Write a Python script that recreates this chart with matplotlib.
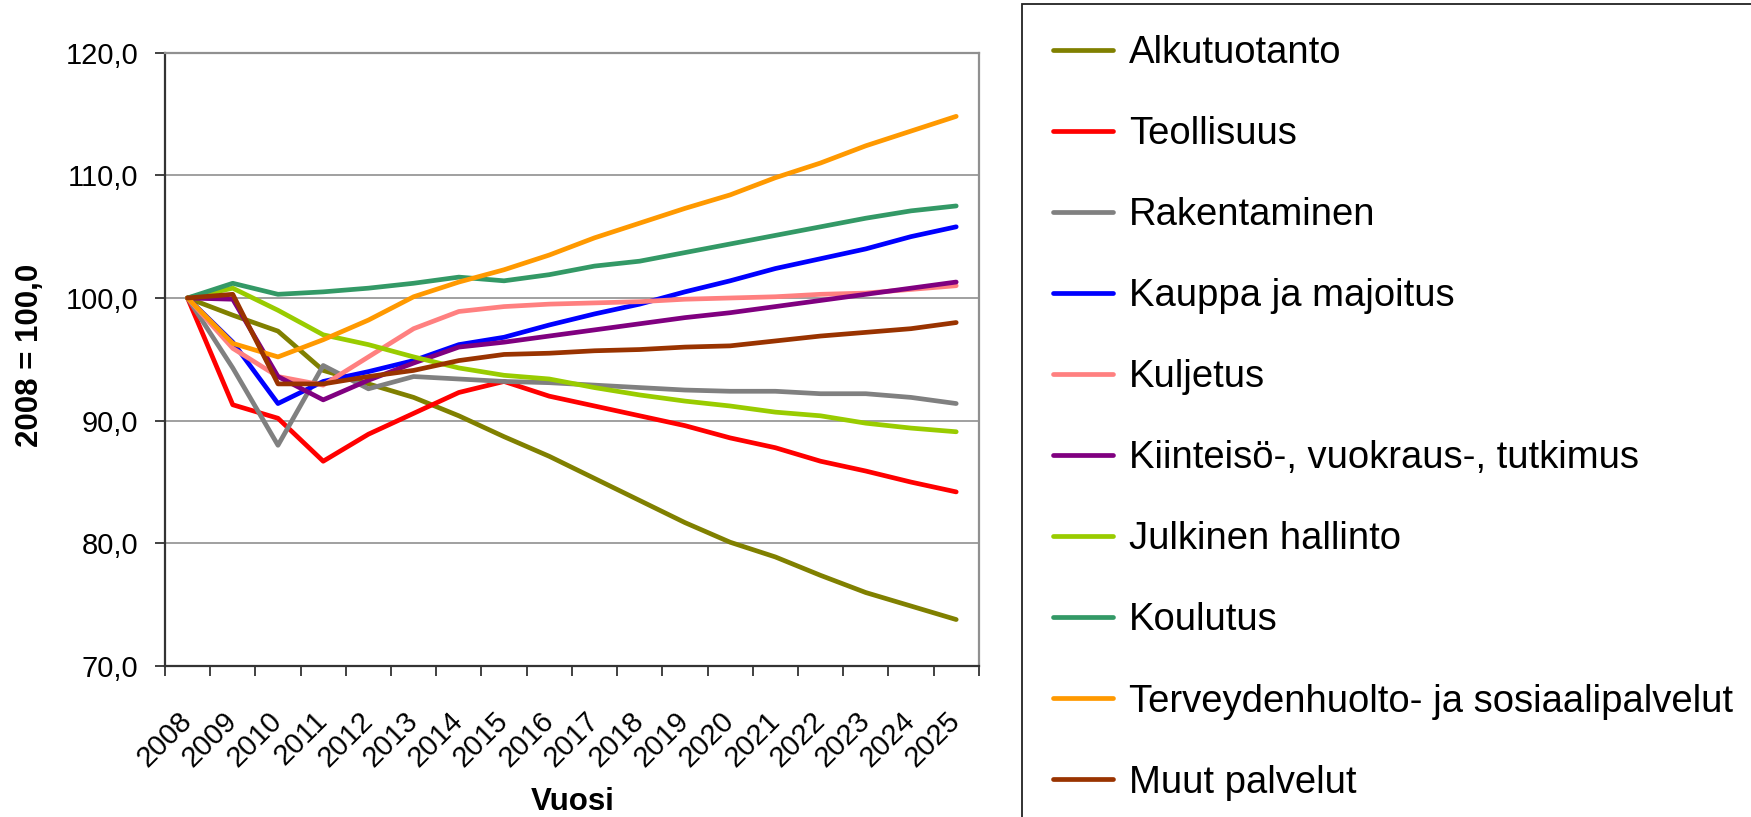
import matplotlib
matplotlib.use("Agg")
import matplotlib.pyplot as plt
from matplotlib.patches import Rectangle
from matplotlib.transforms import ScaledTranslation

plt.rcParams['font.family'] = ['Liberation Sans', 'DejaVu Sans']

# Data (index, 2008 = 100)

years = ['2008', '2009', '2010', '2011', '2012', '2013', '2014', '2015', '2016',
         '2017', '2018', '2019', '2020', '2021', '2022', '2023', '2024', '2025']

alkutuotanto = [100.0, 98.6, 97.3, 94.1, 93.0, 91.9, 90.4, 88.7, 87.1,
                85.3, 83.5, 81.7, 80.1, 78.9, 77.4, 76.0, 74.9, 73.8]
teollisuus = [100.0, 91.3, 90.2, 86.7, 88.9, 90.6, 92.3, 93.2, 92.0,
              91.2, 90.4, 89.6, 88.6, 87.8, 86.7, 85.9, 85.0, 84.2]
rakentaminen = [100.0, 94.3, 88.0, 94.5, 92.6, 93.6, 93.4, 93.2, 93.1,
                92.9, 92.7, 92.5, 92.4, 92.4, 92.2, 92.2, 91.9, 91.4]
kauppa = [100.0, 96.4, 91.4, 93.2, 94.0, 94.9, 96.2, 96.8, 97.8,
          98.7, 99.5, 100.5, 101.4, 102.4, 103.2, 104.0, 105.0, 105.8]
kuljetus = [100.0, 95.9, 93.6, 92.9, 95.2, 97.5, 98.9, 99.3, 99.5,
            99.6, 99.7, 99.9, 100.0, 100.1, 100.3, 100.4, 100.7, 101.0]
kiinteisto = [100.0, 99.9, 93.6, 91.7, 93.3, 94.7, 96.0, 96.4, 96.9,
              97.4, 97.9, 98.4, 98.8, 99.3, 99.8, 100.3, 100.8, 101.3]
julkinen = [100.0, 100.8, 99.0, 97.0, 96.2, 95.2, 94.3, 93.7, 93.4,
            92.7, 92.1, 91.6, 91.2, 90.7, 90.4, 89.8, 89.4, 89.1]
koulutus = [100.0, 101.2, 100.3, 100.5, 100.8, 101.2, 101.7, 101.4, 101.9,
            102.6, 103.0, 103.7, 104.4, 105.1, 105.8, 106.5, 107.1, 107.5]
terveys = [100.0, 96.3, 95.2, 96.6, 98.2, 100.1, 101.3, 102.3, 103.5,
           104.9, 106.1, 107.3, 108.4, 109.8, 111.0, 112.4, 113.6, 114.8]
muut = [100.0, 100.3, 93.0, 93.0, 93.6, 94.1, 94.9, 95.4, 95.5,
        95.7, 95.8, 96.0, 96.1, 96.5, 96.9, 97.2, 97.5, 98.0]

labels = ['Alkutuotanto', 'Teollisuus', 'Rakentaminen', 'Kauppa ja majoitus',
          'Kuljetus', 'Kiinteisö-, vuokraus-, tutkimus', 'Julkinen hallinto',
          'Koulutus', 'Terveydenhuolto- ja sosiaalipalvelut', 'Muut palvelut']
colors = ['#808000', '#FF0000', '#808080', '#0000FF', '#FF8080',
          '#800080', '#99CC00', '#339966', '#FF9900', '#993300']
series = [alkutuotanto, teollisuus, rakentaminen, kauppa, kuljetus,
          kiinteisto, julkinen, koulutus, terveys, muut]

yticks = [70, 80, 90, 100, 110, 120]
ytick_labels = ['70,0', '80,0', '90,0', '100,0', '110,0', '120,0']

#%%

fig = plt.figure(figsize=(17.51, 8.17), dpi=100)
ax = fig.add_axes([0.0942, 0.1846, 0.4648, 0.7511])

x = list(range(len(years)))
handles = []
for vals, col, lab in zip(series, colors, labels):
    h, = ax.plot(x, vals, color=col, lw=3.4, label=lab, solid_capstyle='round',
                 solid_joinstyle='round')
    handles.append(h)

ax.set_xlim(-0.5, len(years) - 0.5)
ax.set_ylim(70, 120)

# category labels at the centres, tick marks at the boundaries
ax.set_xticks(x)
ax.set_xticklabels(years, rotation=45, ha='right', va='top',
                   rotation_mode='anchor', fontsize=21)
ax.tick_params(axis='x', which='major', length=0, pad=29)
shift = ScaledTranslation(-0.10, 0, fig.dpi_scale_trans)
for t in ax.get_xticklabels():
    t.set_transform(t.get_transform() + shift)
ax.set_xticks([i - 0.5 for i in range(len(years) + 1)], minor=True)
ax.tick_params(axis='x', which='minor', length=7, width=1.3, color='#333333')

ax.set_yticks(yticks)
ax.set_yticklabels(ytick_labels, fontsize=21)
ax.tick_params(axis='y', length=7, width=1.3, color='#333333', pad=12)

ax.grid(axis='y', color='#a0a0a0', lw=1.4)
ax.set_axisbelow(True)

for s in ['left', 'bottom']:
    ax.spines[s].set_color('#333333')
    ax.spines[s].set_linewidth(1.6)
for s in ['top', 'right']:
    ax.spines[s].set_color('#909090')
    ax.spines[s].set_linewidth(1.6)

fig.text(30 / 1751, 1 - 355 / 817, '2008 = 100,0', rotation=90, ha='center',
         va='center', fontsize=22.5, fontweight='bold')
fig.text(573 / 1751, 1 - 802 / 817, 'Vuosi', ha='center', va='center',
         fontsize=22.5, fontweight='bold')

# legend box
fig.patches.append(Rectangle((1022 / 1751, -0.05), 0.5, 1.05 - 4 / 817,
                             transform=fig.transFigure, fill=False,
                             edgecolor='#222222', lw=1.3))
fig.legend(handles=handles, labels=labels, loc='upper left',
           bbox_to_anchor=(1053 / 1751, 1 - 35 / 817), frameon=False,
           fontsize=27.5, handlelength=1.57, handletextpad=0.42,
           labelspacing=1.18, borderpad=0, borderaxespad=0)

fig.savefig('out.png', dpi=100)
